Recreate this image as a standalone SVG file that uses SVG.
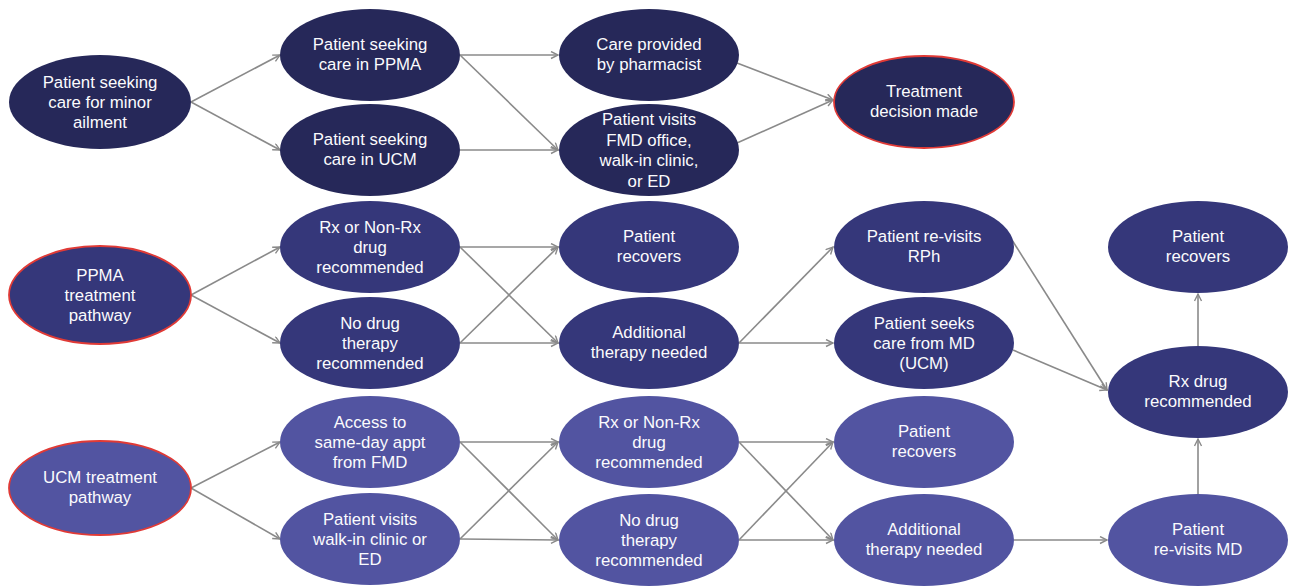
<svg xmlns="http://www.w3.org/2000/svg" width="1290" height="587" viewBox="0 0 1290 587">
<defs>
<marker id="arr" markerWidth="10" markerHeight="10" refX="8" refY="4" orient="auto" markerUnits="userSpaceOnUse">
<path d="M1,0.5 L8,4 L1,7.5" fill="none" stroke="#8a8a8a" stroke-width="1.4"/>
</marker>
</defs>
<style>
.c{stroke:#8a8a8a;stroke-width:1.6;fill:none;marker-end:url(#arr)}
.d{fill:#262859}
.m{fill:#35377a}
.l{fill:#5254a1}
.r{stroke:#e03a36;stroke-width:1.8}
text{font-family:"Liberation Sans",Arial,sans-serif;font-size:16.8px;fill:#fbfbfd;text-anchor:middle}
</style>
<rect width="1290" height="587" fill="#ffffff"/>
<g id="connectors">
<line class="c" x1="191" y1="102" x2="280" y2="55"/>
<line class="c" x1="191" y1="102" x2="280" y2="150"/>
<line class="c" x1="460" y1="55" x2="558" y2="55"/>
<line class="c" x1="460" y1="55" x2="558" y2="150"/>
<line class="c" x1="460" y1="150" x2="558" y2="150"/>
<line class="c" x1="737" y1="63" x2="833" y2="100"/>
<line class="c" x1="737" y1="143" x2="833" y2="100"/>
<line class="c" x1="191" y1="295" x2="280" y2="247"/>
<line class="c" x1="191" y1="295" x2="280" y2="343"/>
<line class="c" x1="460" y1="247" x2="558" y2="247"/>
<line class="c" x1="460" y1="247" x2="558" y2="343"/>
<line class="c" x1="460" y1="343" x2="558" y2="247"/>
<line class="c" x1="460" y1="343" x2="558" y2="343"/>
<line class="c" x1="739" y1="343" x2="833" y2="247"/>
<line class="c" x1="739" y1="343" x2="833" y2="343"/>
<line class="c" x1="1012" y1="240" x2="1107" y2="390"/>
<line class="c" x1="1013" y1="350" x2="1107" y2="390"/>
<line class="c" x1="1198" y1="346" x2="1198" y2="294"/>
<line class="c" x1="191" y1="488" x2="280" y2="442"/>
<line class="c" x1="191" y1="488" x2="280" y2="539"/>
<line class="c" x1="460" y1="442" x2="558" y2="442"/>
<line class="c" x1="460" y1="442" x2="558" y2="540"/>
<line class="c" x1="460" y1="539" x2="558" y2="442"/>
<line class="c" x1="460" y1="539" x2="558" y2="540"/>
<line class="c" x1="739" y1="442" x2="833" y2="442"/>
<line class="c" x1="739" y1="442" x2="833" y2="540"/>
<line class="c" x1="739" y1="540" x2="833" y2="442"/>
<line class="c" x1="739" y1="540" x2="833" y2="540"/>
<line class="c" x1="1014" y1="540" x2="1107" y2="540"/>
<line class="c" x1="1198" y1="494" x2="1198" y2="439"/>
</g>
<g id="n_start"><ellipse class="d" cx="100" cy="102" rx="91" ry="47"/><text x="100" y="88">Patient seeking</text><text x="100" y="108">care for minor</text><text x="100" y="128">ailment</text></g>
<g id="n_seek_ppma"><ellipse class="d" cx="370" cy="55" rx="90" ry="46"/><text x="370" y="50">Patient seeking</text><text x="370" y="70">care in PPMA</text></g>
<g id="n_seek_ucm"><ellipse class="d" cx="370" cy="150" rx="90" ry="46"/><text x="370" y="145">Patient seeking</text><text x="370" y="165">care in UCM</text></g>
<g id="n_care_pharm"><ellipse class="d" cx="649" cy="55" rx="90" ry="46"/><text x="649" y="50">Care provided</text><text x="649" y="70">by pharmacist</text></g>
<g id="n_visit_fmd"><ellipse class="d" cx="649" cy="150" rx="90" ry="46"/><text x="649" y="125">Patient visits</text><text x="649" y="145.5">FMD office,</text><text x="649" y="166">walk-in clinic,</text><text x="649" y="186.5">or ED</text></g>
<g id="n_treat_decision"><ellipse class="d r" cx="924" cy="102" rx="90" ry="46"/><text x="924" y="97">Treatment</text><text x="924" y="117">decision made</text></g>
<g id="n_ppma"><ellipse class="m r" cx="100" cy="295" rx="91" ry="49"/><text x="100" y="281">PPMA</text><text x="100" y="301">treatment</text><text x="100" y="321">pathway</text></g>
<g id="n_ppma_rx"><ellipse class="m" cx="370" cy="247" rx="90" ry="46"/><text x="370" y="233">Rx or Non-Rx</text><text x="370" y="253">drug</text><text x="370" y="273">recommended</text></g>
<g id="n_ppma_nodrug"><ellipse class="m" cx="370" cy="343" rx="90" ry="46"/><text x="370" y="329">No drug</text><text x="370" y="349">therapy</text><text x="370" y="369">recommended</text></g>
<g id="n_ppma_recovers"><ellipse class="m" cx="649" cy="247" rx="90" ry="46"/><text x="649" y="242">Patient</text><text x="649" y="262">recovers</text></g>
<g id="n_ppma_additional"><ellipse class="m" cx="649" cy="343" rx="90" ry="46"/><text x="649" y="338">Additional</text><text x="649" y="358">therapy needed</text></g>
<g id="n_revisit_rph"><ellipse class="m" cx="924" cy="247" rx="90" ry="46"/><text x="924" y="242">Patient re-visits</text><text x="924" y="262">RPh</text></g>
<g id="n_seeks_md"><ellipse class="m" cx="924" cy="343" rx="90" ry="46"/><text x="924" y="329">Patient seeks</text><text x="924" y="349">care from MD</text><text x="924" y="369">(UCM)</text></g>
<g id="n_final_recovers"><ellipse class="m" cx="1198" cy="247" rx="90" ry="46"/><text x="1198" y="242">Patient</text><text x="1198" y="262">recovers</text></g>
<g id="n_rx_drug"><ellipse class="m" cx="1198" cy="392" rx="90" ry="46"/><text x="1198" y="387">Rx drug</text><text x="1198" y="407">recommended</text></g>
<g id="n_ucm"><ellipse class="l r" cx="100" cy="488" rx="91" ry="47"/><text x="100" y="483">UCM treatment</text><text x="100" y="503">pathway</text></g>
<g id="n_ucm_access"><ellipse class="l" cx="370" cy="442" rx="90" ry="46"/><text x="370" y="428">Access to</text><text x="370" y="448">same-day appt</text><text x="370" y="468">from FMD</text></g>
<g id="n_ucm_walkin"><ellipse class="l" cx="370" cy="539" rx="90" ry="46"/><text x="370" y="525">Patient visits</text><text x="370" y="545">walk-in clinic or</text><text x="370" y="565">ED</text></g>
<g id="n_ucm_rx"><ellipse class="l" cx="649" cy="442" rx="90" ry="46"/><text x="649" y="428">Rx or Non-Rx</text><text x="649" y="448">drug</text><text x="649" y="468">recommended</text></g>
<g id="n_ucm_nodrug"><ellipse class="l" cx="649" cy="540" rx="90" ry="46"/><text x="649" y="526">No drug</text><text x="649" y="546">therapy</text><text x="649" y="566">recommended</text></g>
<g id="n_ucm_recovers"><ellipse class="l" cx="924" cy="442" rx="90" ry="46"/><text x="924" y="437">Patient</text><text x="924" y="457">recovers</text></g>
<g id="n_ucm_additional"><ellipse class="l" cx="924" cy="540" rx="90" ry="46"/><text x="924" y="535">Additional</text><text x="924" y="555">therapy needed</text></g>
<g id="n_revisit_md"><ellipse class="l" cx="1198" cy="540" rx="90" ry="46"/><text x="1198" y="535">Patient</text><text x="1198" y="555">re-visits MD</text></g>
</svg>
